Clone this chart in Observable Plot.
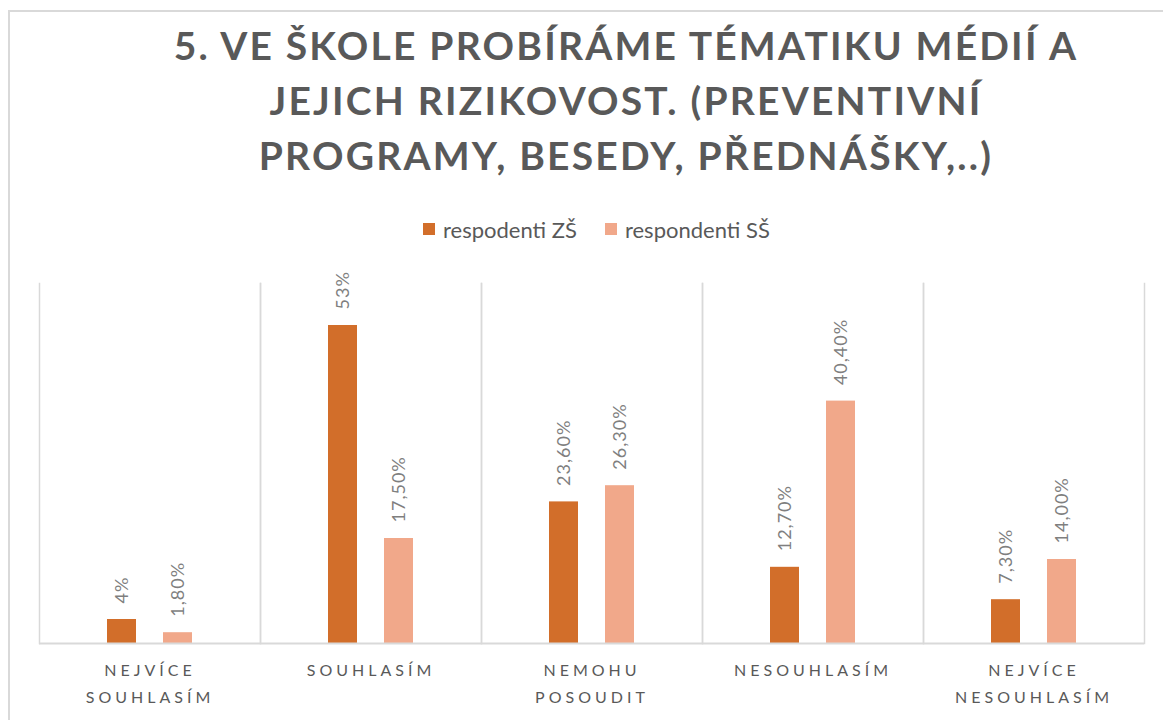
<!DOCTYPE html>
<html><head><meta charset="utf-8">
<script src="https://cdn.jsdelivr.net/npm/d3@7"></script>
<script src="https://cdn.jsdelivr.net/npm/@observablehq/plot@0.6"></script>
<style>
body{margin:0;background:#fff;font-family:Lato,"Open Sans",sans-serif;}
#wrap{position:relative;width:1163px;height:720px;overflow:hidden;background:#fff}
#border{position:absolute;left:8px;top:10px;width:1300px;height:900px;border-left:2px solid #d9d9d9;border-top:2px solid #d9d9d9;box-sizing:border-box}
#title{position:absolute;left:89px;width:1074px;top:18px;text-align:center;font-weight:700;font-size:39px;line-height:55px;letter-spacing:2.2px;color:#595959;white-space:nowrap}
#legend{position:absolute;top:217px;left:423px;height:24px;display:flex;align-items:center;font-size:22px;color:#595959;white-space:nowrap}
#legend .sw{display:inline-block;width:12px;height:12px;margin-right:8px}
#legend .item{display:flex;align-items:center;margin-right:28px}
#chart{position:absolute;left:0;top:260px}
g[aria-description="category-labels"] text{letter-spacing:4px}
g[aria-description="value-labels"] text{letter-spacing:1px}
</style></head>
<body><div id="wrap"><div id="border"></div>
<div id="title">5. VE ŠKOLE PROBÍRÁME TÉMATIKU MÉDIÍ A<br>JEJICH RIZIKOVOST. (PREVENTIVNÍ<br>PROGRAMY, BESEDY, PŘEDNÁŠKY,..)</div>
<div id="legend"></div>
<div id="chart"></div></div>
<script>
const categories = ["NEJVÍCE SOUHLASÍM","SOUHLASÍM","NEMOHU POSOUDIT","NESOUHLASÍM","NEJVÍCE NESOUHLASÍM"];
const categoryLines = ["NEJVÍCE\nSOUHLASÍM","SOUHLASÍM","NEMOHU\nPOSOUDIT","NESOUHLASÍM","NEJVÍCE\nNESOUHLASÍM"];
const series = ["respodenti ZŠ","respondenti SŠ"];
const valuesZS = [4, 53, 23.6, 12.7, 7.3];
const valuesSS = [1.8, 17.5, 26.3, 40.4, 14.0];
const labelsZS = ["4%","53%","23,60%","12,70%","7,30%"];
const labelsSS = ["1,80%","17,50%","26,30%","40,40%","14,00%"];
const colors = ["#D26E2A","#F1A88A"];

const data = [];
categories.forEach((c,i)=>{
  data.push({cat:c, series:series[0], value:valuesZS[i], label:labelsZS[i]});
  data.push({cat:c, series:series[1], value:valuesSS[i], label:labelsSS[i]});
});

const legend = document.getElementById("legend");
series.forEach((s,i)=>{
  const it = document.createElement("span"); it.className="item";
  const sw = document.createElement("span"); sw.className="sw"; sw.style.background=colors[i];
  it.appendChild(sw); it.appendChild(document.createTextNode(s));
  legend.appendChild(it);
});

const chart = Plot.plot({
  width:1163, height:460, marginTop:23, marginBottom:77, marginLeft:38, marginRight:18,
  style:{fontFamily:"Lato, 'Open Sans', sans-serif", background:"transparent", overflow:"visible"},
  fx:{domain:categories, padding:0, axis:null, label:null},
  x:{domain:series, paddingInner:0.4737, paddingOuter:1.179, align:0.5, axis:null},
  y:{domain:[0,60], axis:null},
  color:{domain:series, range:colors},
  marks:[
    Plot.frame({anchor:"left", stroke:"#d9d9d9", strokeWidth:1.5}),
    Plot.frame({anchor:"right", stroke:"#d9d9d9", strokeWidth:1.5}),
    Plot.barY(data, {fx:"cat", x:"series", y:"value", fill:"series"}),
    Plot.ruleY([0], {stroke:"#d9d9d9", strokeWidth:2}),
    Plot.text(data, {fx:"cat", x:"series", y:"value", text:"label", rotate:-90, textAnchor:"start", dy:-16, fill:"#7f7f7f", fontSize:18, ariaDescription:"value-labels"}),
    Plot.text(categories, {fx:d=>d, text:d=>categoryLines[categories.indexOf(d)], frameAnchor:"bottom", lineAnchor:"top", dy:13, lineHeight:1.69, fill:"#595959", fontSize:16, ariaDescription:"category-labels"})
  ]
});
document.getElementById("chart").appendChild(chart);
</script>
</body></html>
